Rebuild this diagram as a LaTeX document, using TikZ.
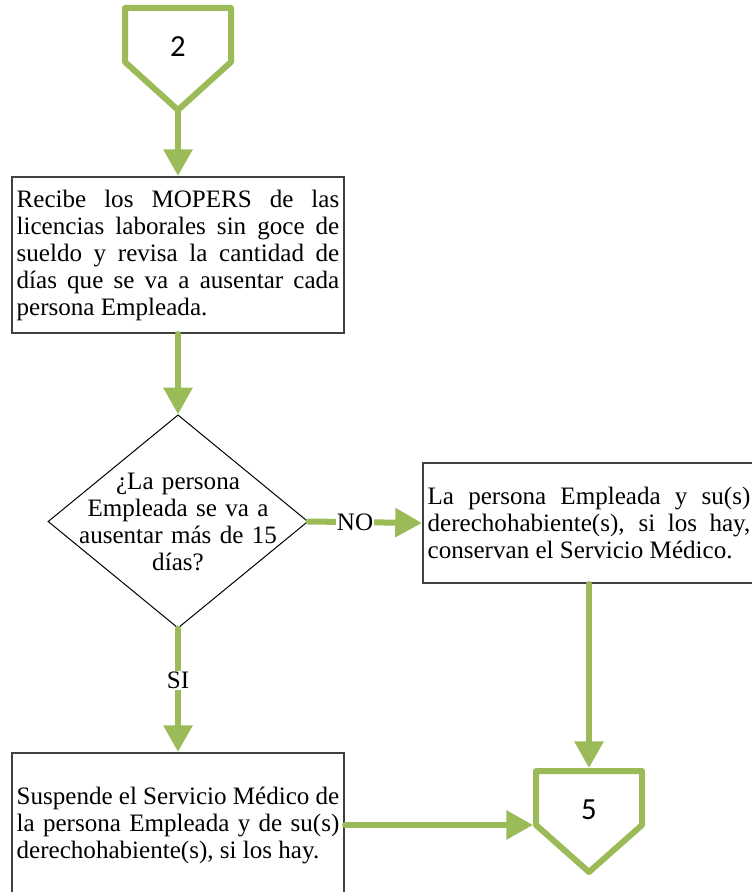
\documentclass[tikz,border=0pt]{standalone}
\usepackage{fontspec}
\setmainfont{Liberation Serif}
\newfontfamily\connfont{Carlito}
\usetikzlibrary{arrows.meta,shapes.geometric}
\definecolor{flowgreen}{HTML}{9BBB59}
\definecolor{boxgray}{HTML}{404040}
\newcommand\nohyph{\hyphenpenalty10000\relax\exhyphenpenalty10000\relax}

\begin{document}
\begin{tikzpicture}[x=0.75pt,y=-0.75pt,
  bodyfont/.style={font=\fontsize{18.8}{20.25}\selectfont\nohyph},
  flow/.style={draw=flowgreen, line width=4.5pt, line cap=round,
    -{Triangle[length=20pt,width=21pt]}},
  offpage/.style={draw=flowgreen, line width=4.5pt, line join=round, fill=white},
  procbox/.style={bodyfont, draw=boxgray, line width=1.6pt, fill=white, rectangle,
    align=justify, text width=242pt, inner xsep=3.5pt, inner ysep=0pt},
  decision/.style={draw=black, line width=0.75pt, diamond, fill=white,
    minimum width=195pt, minimum height=160pt, inner sep=0pt},
  dectext/.style={bodyfont, align=center, text width=160pt, inner sep=0pt},
  lbl/.style={bodyfont, fill=white, inner sep=0.5pt},
  connum/.style={font=\connfont\fontsize{23}{26}\selectfont, inner sep=0pt}
]
\useasboundingbox (0,0) rectangle (751,892);

% off-page connector 2
\coordinate (c2tip) at (178,110);
\draw[offpage] (125,8) -- (231,8) -- (231,62) -- (c2tip) -- (125,62) -- cycle;
\node[connum] (n2) at (178,47) {2};

% process boxes
\node[procbox, minimum height=117pt] (box1) at (178,255)
  {Recibe los MOPERS de las\linebreak licencias laborales sin goce de\linebreak
   sueldo y revisa la cantidad de\linebreak días que se va a ausentar cada\linebreak
   persona Empleada.};

\node[decision] (dec) at (178,521.5) {};
\node[dectext] (q) at (dec.center)
  {¿La persona\\Empleada se va a\\ausentar más de 15\\días?};

\node[procbox, minimum height=90pt] (box2) at (589,523)
  {La persona Empleada y su(s)\linebreak derechohabiente(s), si los hay,\linebreak
   conservan el Servicio Médico.};

\node[procbox, minimum height=108pt] (box3) at (178,825)
  {Suspende el Servicio Médico de\linebreak la persona Empleada y de su(s)\linebreak
   derechohabiente(s), si los hay.};

% off-page connector 5
\coordinate (c5top) at (589,768);
\coordinate (c5left) at (533,825);
\draw[offpage] (536,771) -- (642,771) -- (642,825) -- (589,872) -- (536,825) -- cycle;
\node[connum] (n5) at (589,810) {5};

% connectors
\draw[flow] (c2tip) -- (box1.north);
\draw[flow] (box1.south) -- (dec.north);
\draw[flow] (dec.east) -- node[lbl, pos=0.41] (nolbl) {NO} (box2.west);
\draw[flow] (dec.south) -- node[lbl, pos=0.42] (silbl) {SI} (box3.north);
\draw[flow] (box2.south) -- (c5top);
\draw[flow] (box3.east) -- (c5left);
\end{tikzpicture}
\end{document}
